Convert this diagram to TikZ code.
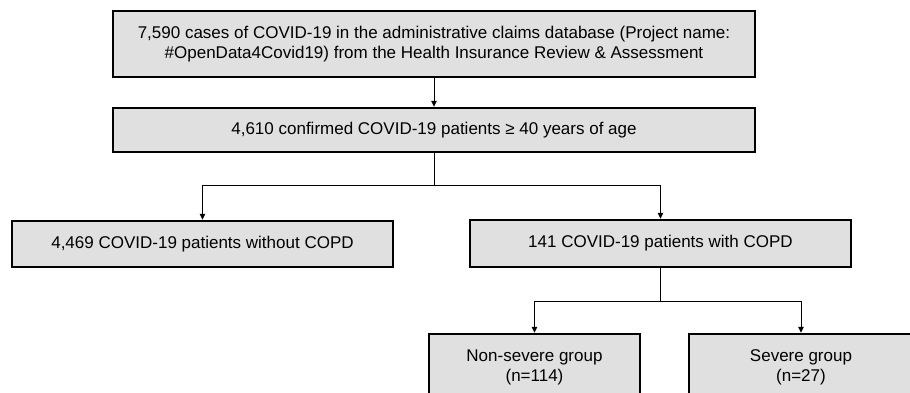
\documentclass[tikz,border=0pt]{standalone}
\usepackage{fontspec}
\setmainfont{Liberation Sans}
\usepackage{tikz}
\usetikzlibrary{arrows.meta}
\definecolor{boxgrey}{HTML}{E0E0E0}
\tikzset{
  box/.style={draw=black,fill=boxgrey,line width=2.5pt,align=center,inner sep=0pt,font=\fontsize{17}{20}\selectfont},
  arr/.style={-{Triangle[length=6pt,width=5.5pt]},line width=1pt,draw=black},
  lin/.style={line width=1pt,draw=black},
}
\begin{document}
\begin{tikzpicture}[x=1pt,y=-1pt]
\useasboundingbox (0,0) rectangle (910,392);
\clip (0,0) rectangle (910,392);
\node[box,minimum width=642pt,minimum height=66pt] (claims) at (434,44)
  {7,590 cases of COVID-19 in the administrative claims database (Project name:\\\#OpenData4Covid19) from the Health Insurance Review \& Assessment};
\node[box,minimum width=642pt,minimum height=44pt] (confirmed) at (434,130)
  {4,610 confirmed COVID-19 patients ≥ 40 years of age};
\node[box,minimum width=381pt,minimum height=46pt] (nocopd) at (202.5,244)
  {4,469 COVID-19 patients without COPD};
\node[box,minimum width=381pt,minimum height=47pt] (copd) at (660.5,243.5)
  {141 COVID-19 patients with COPD};
\node[box,minimum width=211pt,minimum height=67pt] (nonsevere) at (534.5,367.5)
  {Non-severe group\\(n=114)};
\node[box,minimum width=224pt,minimum height=67pt] (severe) at (801,367.5)
  {Severe group\\(n=27)};
\coordinate (split1) at (434,185);
\coordinate (split2) at (660.5,301);
\draw[arr] (claims) -- (confirmed);
\draw[lin] (confirmed) -- (split1);
\draw[arr] (split1) -| (nocopd);
\draw[arr] (split1) -| (copd);
\draw[lin] (copd) -- (split2);
\draw[arr] (split2) -| (nonsevere);
\draw[arr] (split2) -| (severe);
\end{tikzpicture}
\end{document}
